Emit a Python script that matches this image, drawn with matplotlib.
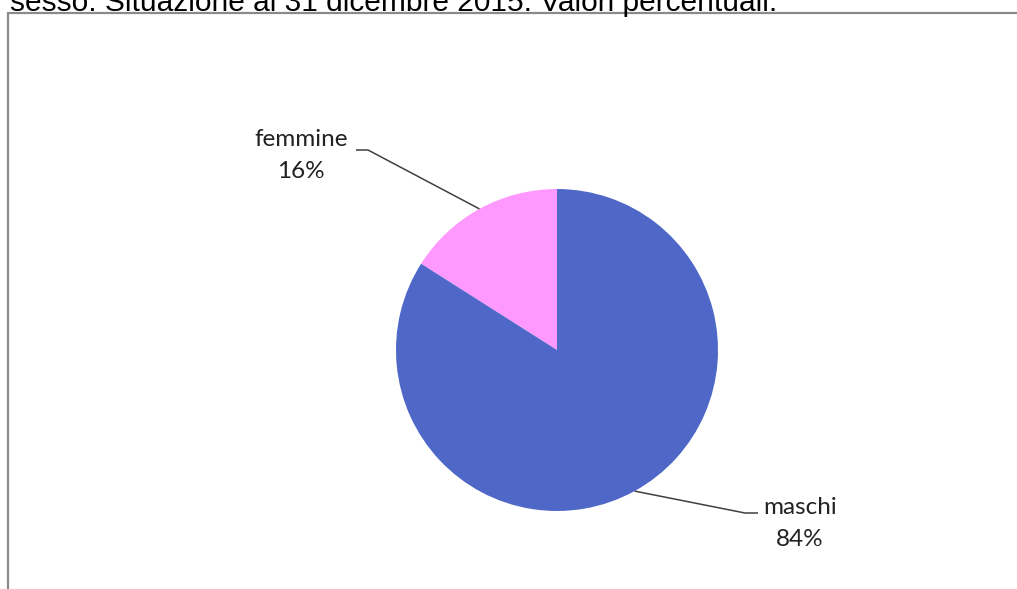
import numpy as np
import matplotlib.pyplot as plt
from matplotlib.patches import Rectangle

labels = ['femmine', 'maschi']
values = [16, 84]
colors = ['#FF99FF', '#4F68C8']
title = 'sesso. Situazione al 31 dicembre 2015. Valori percentuali.'

W, H = 1017, 589
fig = plt.figure(figsize=(W / 100, H / 100), dpi=100)
ax = fig.add_axes([0, 0, 1, 1])

cx, cy, r = 557, H - 350, 161
wedges, _ = ax.pie(values, colors=colors, startangle=90, counterclock=True,
                   center=(cx, cy), radius=r, frame=True,
                   wedgeprops=dict(linewidth=0))
ax.set_xlim(0, W)
ax.set_ylim(0, H)
ax.set_aspect('equal')
ax.axis('off')

# outer frame (cut by the image edges)
ax.add_patch(Rectangle((8, -10), W, H - 12.5 + 10, fill=False,
                       edgecolor='#8a8a8a', linewidth=1.6))

# title, only its lower part is visible
ax.text(10, H - 11, title, fontsize=21.5, family='Liberation Sans',
        va='baseline', ha='left', color='black')

# label layout: (elbow point, end of horizontal, text x, text y of name)
layout = {
    'femmine': dict(elbow=(368, H - 150), end=(356, H - 150), tx=301, ty=H - 140),
    'maschi': dict(elbow=(745, H - 513), end=(758, H - 513), tx=800, ty=H - 507),
}

for w, lab, v in zip(wedges, labels, values):
    ang = np.deg2rad((w.theta1 + w.theta2) / 2)
    px, py = cx + r * np.cos(ang), cy + r * np.sin(ang)
    L = layout[lab]
    ax.plot([px, L['elbow'][0], L['end'][0]], [py, L['elbow'][1], L['end'][1]],
            color='#404040', linewidth=1.1, solid_capstyle='butt')
    ax.text(L['tx'], L['ty'], lab, fontsize=17.5, family='Lato',
            ha='center', va='center', color='#222222')
    ax.text(L['tx'], L['ty'] - 32, f'{v}%', fontsize=17.5, family='Lato',
            ha='center', va='center', color='#222222')

fig.savefig('out.png', dpi=100)
